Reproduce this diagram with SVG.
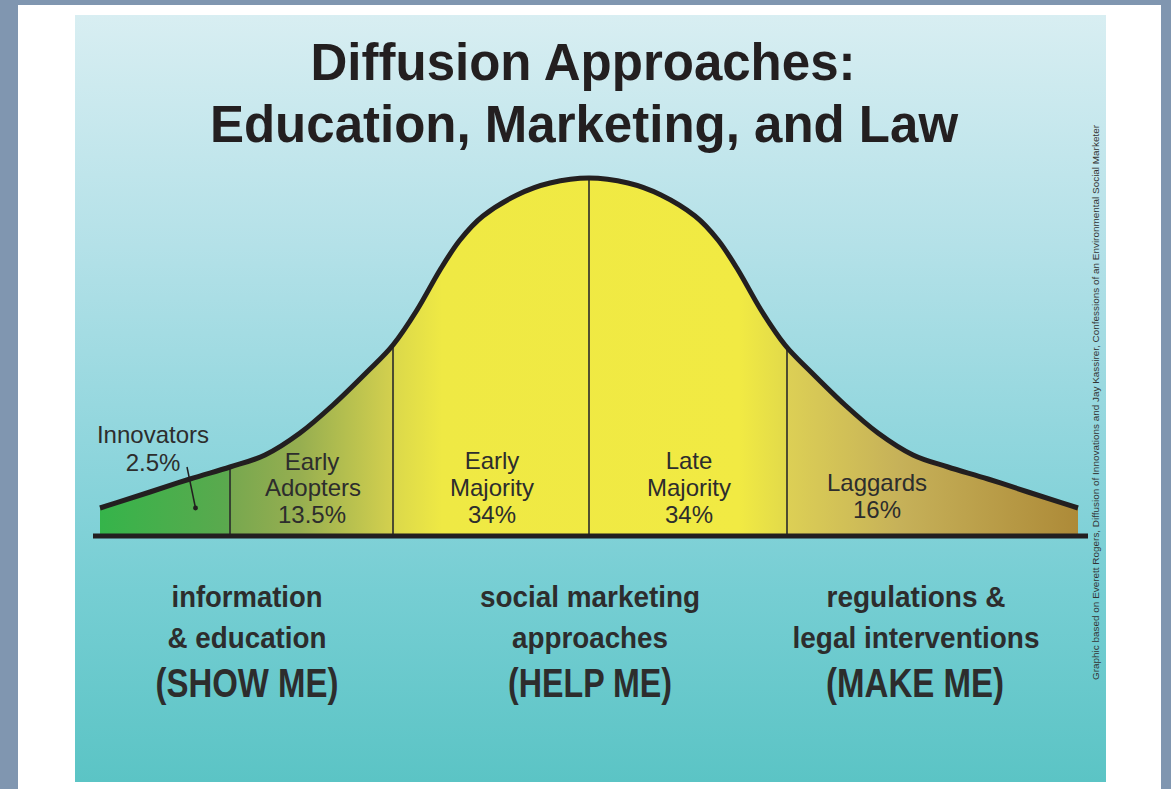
<svg xmlns="http://www.w3.org/2000/svg" width="1171" height="789" viewBox="0 0 1171 789">
  <defs>
    <linearGradient id="bg" x1="0" y1="15" x2="0" y2="782" gradientUnits="userSpaceOnUse">
      <stop offset="0" stop-color="#d8eef2"/>
      <stop offset="0.3" stop-color="#b4e1e8"/>
      <stop offset="0.6" stop-color="#8ad4db"/>
      <stop offset="0.75" stop-color="#76ced3"/>
      <stop offset="1" stop-color="#5bc4c5"/>
    </linearGradient>
    <linearGradient id="bell" x1="100" y1="0" x2="1078" y2="0" gradientUnits="userSpaceOnUse">
      <stop offset="0" stop-color="#35b44a"/>
      <stop offset="0.131" stop-color="#5ba94e"/>
      <stop offset="0.135" stop-color="#78a84f"/>
      <stop offset="0.204" stop-color="#96ae50"/>
      <stop offset="0.297" stop-color="#d2cf4e"/>
      <stop offset="0.303" stop-color="#dcd94a"/>
      <stop offset="0.35" stop-color="#efe944"/>
      <stop offset="0.654" stop-color="#f1ea43"/>
      <stop offset="0.701" stop-color="#e2da4a"/>
      <stop offset="0.705" stop-color="#dccf55"/>
      <stop offset="0.818" stop-color="#c6b159"/>
      <stop offset="1" stop-color="#ad8a38"/>
    </linearGradient>
    <clipPath id="bellClip">
      <path d="M100,537 L100,508 C116.7,502.7 135,496.8 150,492 C165,487.2 176.7,483.2 190,479 C203.3,474.8 217.5,471 230,467 C242.5,463 253.3,460.7 265,455 C276.7,449.3 288.7,441.3 300,433 C311.3,424.7 321.8,415.2 333,405 C344.2,394.8 357,382 367,372 C377,362 384.7,355.3 393,345 C401.3,334.7 409.2,322.5 417,310 C424.8,297.5 432.8,281.7 440,270 C447.2,258.3 452.8,249 460,240 C467.2,231 473.5,223.5 483,216 C492.5,208.5 505.8,200.5 517,195 C528.2,189.5 538,185.8 550,183 C562,180.2 576,178 589,178 C602,178 616,180.2 628,183 C640,185.8 649.8,189.5 661,195 C672.2,200.5 685.5,208.5 695,216 C704.5,223.5 710.8,231 718,240 C725.2,249 730.8,258.3 738,270 C745.2,281.7 753.2,297.5 761,310 C768.8,322.5 776.7,334.7 785,345 C793.3,355.3 801,362 811,372 C821,382 833.8,394.8 845,405 C856.2,415.2 866.7,424.7 878,433 C889.3,441.3 901.3,449.3 913,455 C924.7,460.7 935.5,463 948,467 C960.5,471 974.7,474.8 988,479 C1001.3,483.2 1013,487.2 1028,492 C1043,496.8 1061.3,502.7 1078,508 L1078,537 Z"/>
    </clipPath>
    <style>
      .title { font-family: "Liberation Sans", Arial, sans-serif; font-weight: bold; font-size: 51px; fill: #231f20; text-anchor: middle; }
      .seg { font-family: "Liberation Sans", Arial, sans-serif; font-size: 24px; fill: #2d2d2d; text-anchor: middle; }
      .appr { font-family: "Liberation Sans", Arial, sans-serif; font-weight: bold; font-size: 29px; fill: #2d2d2d; text-anchor: middle; }
      .big { font-family: "Liberation Sans", Arial, sans-serif; font-weight: bold; font-size: 40px; fill: #2d2d2d; text-anchor: middle; }
      .credit { font-family: "Liberation Sans", Arial, sans-serif; font-size: 8.5px; fill: #333; }
      .divider { stroke: #2a2a2a; stroke-width: 1.6; }
    </style>
  </defs>

  <g id="background">
    <rect x="0" y="0" width="1171" height="789" fill="#8096b0"/>
    <rect x="18" y="5" width="1143" height="784" fill="#ffffff"/>
    <rect x="75" y="15" width="1031" height="767" fill="url(#bg)"/>
  </g>

  <g id="title">
    <text class="title" x="583" y="80">Diffusion Approaches:</text>
    <text class="title" x="584" y="142">Education, Marketing, and Law</text>
  </g>

  <g id="bell-curve">
    <g clip-path="url(#bellClip)">
      <rect x="100" y="170" width="978" height="367" fill="url(#bell)"/>
      <line class="divider" x1="230" y1="170" x2="230" y2="537"/>
      <line class="divider" x1="393" y1="170" x2="393" y2="537"/>
      <line class="divider" x1="589" y1="170" x2="589" y2="537"/>
      <line class="divider" x1="787" y1="170" x2="787" y2="537"/>
    </g>
    <path d="M100,508 C116.7,502.7 135,496.8 150,492 C165,487.2 176.7,483.2 190,479 C203.3,474.8 217.5,471 230,467 C242.5,463 253.3,460.7 265,455 C276.7,449.3 288.7,441.3 300,433 C311.3,424.7 321.8,415.2 333,405 C344.2,394.8 357,382 367,372 C377,362 384.7,355.3 393,345 C401.3,334.7 409.2,322.5 417,310 C424.8,297.5 432.8,281.7 440,270 C447.2,258.3 452.8,249 460,240 C467.2,231 473.5,223.5 483,216 C492.5,208.5 505.8,200.5 517,195 C528.2,189.5 538,185.8 550,183 C562,180.2 576,178 589,178 C602,178 616,180.2 628,183 C640,185.8 649.8,189.5 661,195 C672.2,200.5 685.5,208.5 695,216 C704.5,223.5 710.8,231 718,240 C725.2,249 730.8,258.3 738,270 C745.2,281.7 753.2,297.5 761,310 C768.8,322.5 776.7,334.7 785,345 C793.3,355.3 801,362 811,372 C821,382 833.8,394.8 845,405 C856.2,415.2 866.7,424.7 878,433 C889.3,441.3 901.3,449.3 913,455 C924.7,460.7 935.5,463 948,467 C960.5,471 974.7,474.8 988,479 C1001.3,483.2 1013,487.2 1028,492 C1043,496.8 1061.3,502.7 1078,508" fill="none" stroke="#231f20" stroke-width="5" stroke-linejoin="round"/>
    <line x1="93" y1="536" x2="1088" y2="536" stroke="#231f20" stroke-width="5"/>
  </g>

  <g id="innovators">
    <text class="seg" x="153" y="443">Innovators</text>
    <text class="seg" x="153" y="471">2.5%</text>
    <line x1="187" y1="467" x2="195.5" y2="508" stroke="#231f20" stroke-width="1.5"/>
    <circle cx="195.5" cy="508" r="2.4" fill="#231f20"/>
  </g>
  <g id="early-adopters">
    <text class="seg" x="312" y="470">Early</text>
    <text class="seg" x="313" y="496">Adopters</text>
    <text class="seg" x="312" y="523">13.5%</text>
  </g>
  <g id="early-majority">
    <text class="seg" x="492" y="469">Early</text>
    <text class="seg" x="492" y="496">Majority</text>
    <text class="seg" x="492" y="523">34%</text>
  </g>
  <g id="late-majority">
    <text class="seg" x="689" y="469">Late</text>
    <text class="seg" x="689" y="496">Majority</text>
    <text class="seg" x="689" y="523">34%</text>
  </g>
  <g id="laggards">
    <text class="seg" x="877" y="491">Laggards</text>
    <text class="seg" x="877" y="518">16%</text>
  </g>

  <g id="show-me">
    <text class="appr" x="247" y="607" textLength="151" lengthAdjust="spacingAndGlyphs">information</text>
    <text class="appr" x="247" y="648" textLength="159" lengthAdjust="spacingAndGlyphs">&amp; education</text>
    <text class="big" x="247" y="697" textLength="183" lengthAdjust="spacingAndGlyphs">(SHOW ME)</text>
  </g>
  <g id="help-me">
    <text class="appr" x="590" y="607" textLength="220" lengthAdjust="spacingAndGlyphs">social marketing</text>
    <text class="appr" x="590" y="648" textLength="156" lengthAdjust="spacingAndGlyphs">approaches</text>
    <text class="big" x="590" y="697" textLength="164" lengthAdjust="spacingAndGlyphs">(HELP ME)</text>
  </g>
  <g id="make-me">
    <text class="appr" x="916" y="607" textLength="179" lengthAdjust="spacingAndGlyphs">regulations &amp;</text>
    <text class="appr" x="916" y="648" textLength="247" lengthAdjust="spacingAndGlyphs">legal interventions</text>
    <text class="big" x="915" y="697" textLength="178" lengthAdjust="spacingAndGlyphs">(MAKE ME)</text>
  </g>

  <g id="credit">
    <text class="credit" transform="translate(1099,680) rotate(-90)" x="0" y="0" textLength="555" lengthAdjust="spacingAndGlyphs">Graphic based on Everett Rogers, Diffusion of Innovations and Jay Kassirer, Confessions of an Environmental Social Marketer</text>
  </g>
</svg>
